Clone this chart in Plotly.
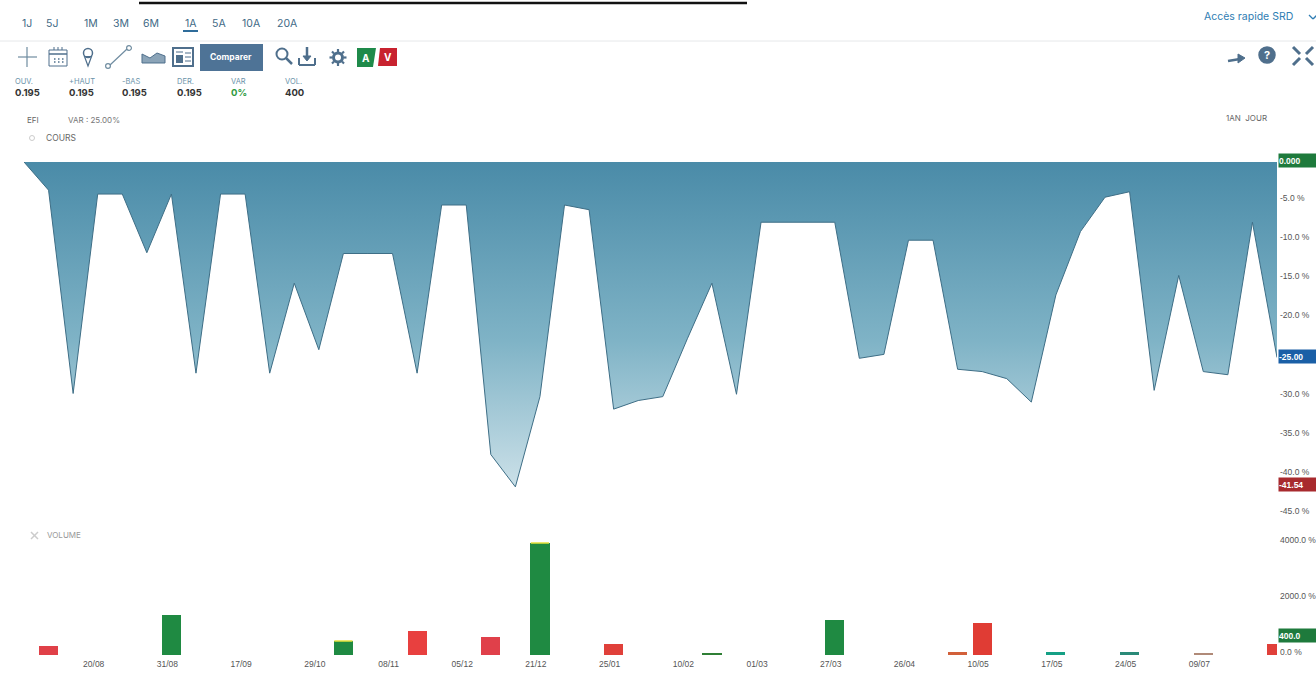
import plotly.graph_objects as go

W, H = 1316, 681

# Weekly performance series, one value per session shown (percent)
perf = [0, -3.6, -29.6, -4.1, -4.1, -11.6, -4.1, -27, -4.1, -4.1, -27, -15.5, -24,
        -11.7, -11.7, -11.7, -27, -5.5, -5.5, -37.4, -41.54, -30, -5.5, -6.1, -31.6,
        -30.5, -30, -22.6, -15.5, -29.7, -7.7, -7.7, -7.7, -7.7, -25.1, -24.6, -10, -10,
        -26.5, -26.8, -27.7, -30.7, -17, -8.9, -4.5, -3.8, -29.2, -14.5, -26.8, -27.2,
        -7.7, -25]
session = list(range(len(perf)))

vol_session = [1, 6, 13, 16, 19, 21, 24, 28, 33, 38, 39, 42, 45, 48, 51]
vol_value = [330, 1430, 500, 860, 640, 4000, 400, 70, 1250, 90, 1140, 120, 110, 40, 400]
vol_color = ["#E04048", "#1F8A42", "#1F8A42", "#E8403F", "#E0404A", "#1F8A42", "#E0403A",
             "#2F7F35", "#1F8A42", "#D2603A", "#E03C34", "#15A085", "#2A8A78", "#B08A78",
             "#E0403A"]
# Bars whose top edge is capped in yellow
capped_session = [13, 21]

tick_session = [3, 6, 9, 12, 15, 18, 21, 24, 27, 30, 33, 36, 39, 42, 45, 48]
tick_dates = ["20/08", "31/08", "17/09", "29/10", "08/11", "05/12", "21/12", "25/01",
              "10/02", "01/03", "27/03", "26/04", "10/05", "17/05", "24/05", "09/07"]
perf_ticks = [-5, -10, -15, -20, -30, -35, -40, -45]
vol_ticks = [0, 2000, 4000]

tabs = [("1J", 27), ("5J", 52), ("1M", 91), ("3M", 121), ("6M", 151),
        ("1A", 191), ("5A", 219), ("10A", 251), ("20A", 287)]
stats = [("OUV.", "0.195", 14), ("+HAUT", "0.195", 68), ("-BAS", "0.195", 121),
         ("DER.", "0.195", 176), ("VAR", "0%", 230), ("VOL.", "400", 284)]

FONT = "Inter, Liberation Sans, sans-serif"
AXIS_FONT = "Liberation Sans, sans-serif"
STEEL = "#4F6F8C"


def px(x):
    return x / W


def py(y):
    return 1 - y / H


fig = go.Figure()
fig.add_trace(go.Scatter(
    x=session, y=perf, mode="lines", fill="tozeroy",
    line=dict(color="#3E6E86", width=1),
    fillgradient=dict(type="vertical",
                      colorscale=[[0, "#CBE0E8"], [0.45, "#7FB3C6"], [1, "#4A8BA8"]]),
    hoverinfo="skip", xaxis="x", yaxis="y",
))
fig.add_trace(go.Bar(
    x=vol_session, y=vol_value, width=0.78, marker=dict(color=vol_color, line_width=0),
    hoverinfo="skip", xaxis="x", yaxis="y2",
))
fig.add_trace(go.Scatter(
    x=capped_session,
    y=[vol_value[vol_session.index(s)] for s in capped_session],
    mode="markers", cliponaxis=False,
    marker=dict(symbol="line-ew", size=13, line=dict(color="#E6E23C", width=1.5)),
    hoverinfo="skip", xaxis="x", yaxis="y2",
))

annotations = []
shapes = []


def text(x, y, s, size=9, color="#555555", anchor="left", bold=False, font=FONT, bg=None):
    annotations.append(dict(
        x=px(x), y=py(y), xref="paper", yref="paper", text=f"<b>{s}</b>" if bold else s,
        showarrow=False, xanchor=anchor, yanchor="middle",
        font=dict(size=size, color=color, family=font), borderpad=0, bgcolor=bg))


def line(x0, y0, x1, y1, color=STEEL, width=1.5):
    shapes.append(dict(type="line", xref="paper", yref="paper", x0=px(x0), y0=py(y0),
                       x1=px(x1), y1=py(y1), line=dict(color=color, width=width)))


def rect(x0, y0, x1, y1, fill=None, color=None, width=1):
    shapes.append(dict(type="rect", xref="paper", yref="paper", x0=px(x0), y0=py(y0),
                       x1=px(x1), y1=py(y1), fillcolor=fill or "rgba(0,0,0,0)",
                       line=dict(color=color or "rgba(0,0,0,0)", width=width)))


def circle(cx, cy, r, fill=None, color=STEEL, width=1.5):
    shapes.append(dict(type="circle", xref="paper", yref="paper", x0=px(cx - r), y0=py(cy - r),
                       x1=px(cx + r), y1=py(cy + r), fillcolor=fill or "rgba(0,0,0,0)",
                       line=dict(color=color, width=width)))


def path(points, fill=None, color=None, width=1.5):
    d = "M " + " L ".join(f"{px(a):.5f},{py(b):.5f}" for a, b in points) + " Z"
    shapes.append(dict(type="path", xref="paper", yref="paper", path=d,
                       fillcolor=fill or "rgba(0,0,0,0)",
                       line=dict(color=color or "rgba(0,0,0,0)", width=width)))


# Top rule and toolbar separator
line(139, 3, 747, 3, color="#111111", width=2.5)
line(0, 41, 1316, 41, color="#E6E8EA", width=1)

# Period selector
for label, cx in tabs:
    text(cx, 23, label, size=10.5, color="#3F6A86", anchor="center")
line(183, 31, 198, 31, color="#2F6C9A", width=2)

# Toolbar icons
line(18, 57, 37, 57, color="#6F8CA0", width=1.2)
line(27, 47, 27, 67, color="#6F8CA0", width=1.2)
rect(49, 50, 67, 66, color=STEEL)
line(49, 54, 67, 54)
for dx in (54, 58, 62):
    line(dx, 47, dx, 50, width=1)
    line(dx, 59, dx + 1.5, 59, width=1.5)
    line(dx, 62, dx + 1.5, 62, width=1.5)
circle(88, 53, 4.5)
path([(84.5, 56.5), (88, 66), (91.5, 56.5)], color=STEEL, width=1.2)
line(110, 65, 127, 49, color="#6F8CA0", width=1.2)
circle(108, 66, 2.4, color="#6F8CA0", width=1.2)
circle(129, 48, 2.4, color="#6F8CA0", width=1.2)
path([(142, 54), (150, 58), (157, 53), (165, 56), (165, 63), (142, 63)], fill="#8BA4B8", color=STEEL, width=1)
rect(173, 48, 193, 66, color=STEEL, width=2)
rect(176, 55, 183, 63, fill=STEEL)
for ly in (53, 57, 61):
    line(185, ly, 191, ly, width=1)
line(176, 52, 183, 52, width=1)
rect(200, 44, 263, 71, fill="#4E7396")
text(231.5, 57, "Comparer", size=8.5, color="#FFFFFF", anchor="center", bold=True)
circle(282, 54, 5.5, width=2)
line(286, 58, 292, 64, width=2.5)
line(307, 47, 307, 59, width=2.5)
path([(303, 56), (307, 61), (311, 56)], fill=STEEL, color=STEEL, width=1)
line(299, 58, 299, 65, width=2)
line(299, 65, 315, 65, width=2)
line(315, 65, 315, 58, width=2)
circle(338, 57.5, 4.5, width=3)
for a, b, c, d in [(338, 49, 338, 52), (338, 63, 338, 66), (329.5, 57.5, 332.5, 57.5),
                   (343.5, 57.5, 346.5, 57.5), (332, 51.5, 334, 53.5), (342, 61.5, 344, 63.5),
                   (344, 51.5, 342, 53.5), (332, 63.5, 334, 61.5)]:
    line(a, b, c, d, width=2.2)
path([(357, 48), (376, 48), (373, 67), (357, 67)], fill="#1F8A4A")
text(365.5, 58, "A", size=10, color="#FFFFFF", anchor="center", bold=True)
path([(380, 48), (397, 48), (397, 66), (378, 66)], fill="#C8222F")
text(388, 57, "V", size=10, color="#FFFFFF", anchor="center", bold=True)

# Quote strip
for label, value, x0 in stats:
    text(x0, 81, label, size=7.5, color="#6B93AA")
    value_color = "#2E9A3E" if label == "VAR" else "#333333"
    text(x0, 93, value, size=9.5, color=value_color, bold=True)

# Series captions
text(26, 120, "EFI", size=8, color="#666666")
text(67, 120, "VAR : 25.00%", size=8, color="#777777")
text(1225, 118, "1AN  JOUR", size=8, color="#666666")
circle(32, 138, 2.5, color="#CCCCCC", width=1)
text(45, 138, "COURS", size=8.5, color="#666666")
line(31, 532, 38, 539, color="#CCCCCC", width=1.5)
line(38, 532, 31, 539, color="#CCCCCC", width=1.5)
text(46, 535, "VOLUME", size=8, color="#999999")

# Right-hand header controls
text(1203, 17, "Accès rapide SRD", size=10.5, color="#2F7DB3")
line(1309, 15, 1313, 19, color="#2F7DB3", width=1.3)
line(1313, 19, 1317, 15, color="#2F7DB3", width=1.3)
line(1228, 61, 1240, 59, width=2.5)
path([(1238, 54), (1245, 58), (1238, 63)], fill=STEEL, color=STEEL, width=1)
circle(1267, 55, 8, fill=STEEL, color=STEEL)
text(1267, 55, "?", size=11, color="#FFFFFF", anchor="center", bold=True)
for x0, y0, x1, y1 in [(1293, 47, 1300, 54), (1313, 47, 1306, 54), (1293, 65, 1300, 58), (1313, 65, 1306, 58)]:
    line(x0, y0, x1, y1, color=STEEL, width=3)


# Value flags on the right edge, tied to the axes they belong to
def flag(y_val, yaxis, label, bg, yshift=0):
    annotations.append(dict(
        x=px(1278), y=y_val, xref="paper", yref=yaxis, text=f"<b>{label}</b>", showarrow=False,
        xanchor="left", yanchor="middle", yshift=yshift, width=38, height=13, align="left",
        bgcolor=bg, font=dict(size=8.5, color="#FFFFFF", family=AXIS_FONT), borderpad=0))


flag(perf[0], "y", "0.000", "#1E7A3C", 1)
flag(perf[-1], "y", "-25.00", "#1A5FA6", 1)
flag(min(perf), "y", "-41.54", "#A82A2E", 2)
flag(vol_value[-1], "y2", "400.0", "#1E7A3C", 8)

fig.update_layout(
    width=W, height=H, margin=dict(l=0, r=0, t=0, b=0), paper_bgcolor="white",
    plot_bgcolor="white", showlegend=False, annotations=annotations, shapes=shapes,
    bargap=0,
    xaxis=dict(domain=[px(24), px(1277)], range=[0, 51], anchor="y2", tickmode="array",
               tickvals=tick_session, ticktext=tick_dates, showgrid=False, zeroline=False,
               ticks="", showline=False, ticklabelstandoff=2, ticklabelshift=-4, automargin=False,
               tickfont=dict(size=8.5, color="#555555", family=AXIS_FONT)),
    yaxis=dict(domain=[py(537), py(162)], range=[-47.95, 0], side="right", anchor="x",
               tickmode="array", tickvals=perf_ticks, automargin=False,
               ticktext=[f"{v:.1f} %" for v in perf_ticks], showgrid=False, zeroline=False,
               ticks="", tickfont=dict(size=8.5, color="#555555", family=AXIS_FONT),
               ticklabelshift=-3, ticklabelstandoff=2),
    yaxis2=dict(domain=[py(655), py(536)], range=[0, 4250], side="right", anchor="x",
                tickmode="array", tickvals=vol_ticks, automargin=False,
                ticktext=[f"{v:.1f} %" for v in vol_ticks], showgrid=False, zeroline=False,
                ticks="", tickfont=dict(size=8.5, color="#555555", family=AXIS_FONT),
                ticklabelshift=-3, ticklabelstandoff=2),
)

fig.write_html("out.html", config=dict(displayModeBar=False))
